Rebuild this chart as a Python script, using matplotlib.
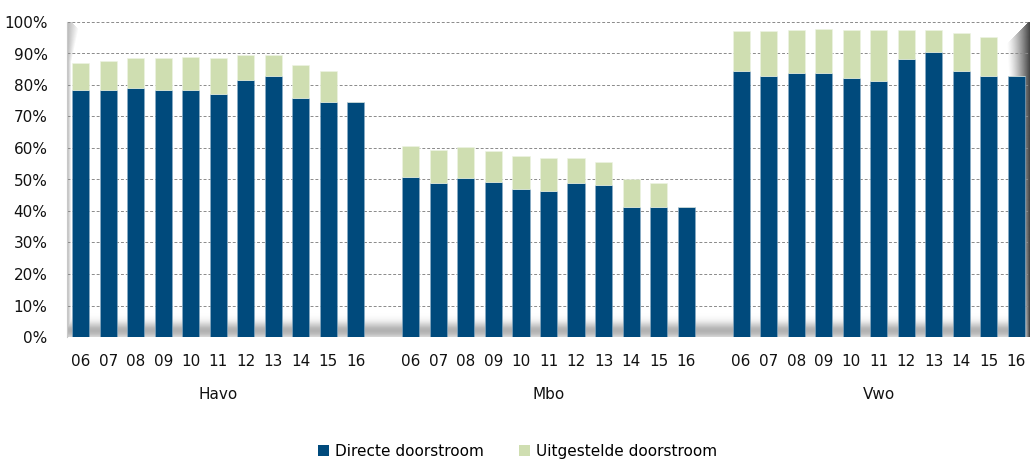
import numpy as np
import matplotlib
matplotlib.use("Agg")
import matplotlib.pyplot as plt
from matplotlib.patches import Patch

plt.rcParams['font.family'] = ['DejaVu Sans']

# schooljaren en opleidingen
jaren = ["06", "07", "08", "09", "10", "11", "12", "13", "14", "15", "16"]
groepen = ["Havo", "Mbo", "Vwo"]

# directe doorstroom (%)
havo_direct = [78.4, 78.4, 79.1, 78.4, 78.4, 77.1, 81.7, 83.0, 75.9, 74.6, 74.6]
mbo_direct = [50.9, 48.9, 50.5, 49.3, 47.1, 46.3, 48.9, 48.4, 41.3, 41.3, 41.3]
vwo_direct = [84.3, 83.0, 83.9, 83.9, 82.2, 81.4, 88.2, 90.6, 84.3, 83.0, 83.0]

# uitgestelde doorstroom (%), bovenop de directe
havo_uitgesteld = [8.5, 9.3, 9.5, 10.2, 10.6, 11.5, 7.7, 6.4, 10.5, 9.7, 0.0]
mbo_uitgesteld = [9.8, 10.6, 9.7, 9.7, 10.3, 10.6, 8.0, 7.3, 8.9, 7.7, 0.0]
vwo_uitgesteld = [12.7, 14.0, 13.6, 14.0, 15.3, 16.1, 9.3, 6.9, 12.3, 12.3, 0.0]

direct = [havo_direct, mbo_direct, vwo_direct]
uitgesteld = [havo_uitgesteld, mbo_uitgesteld, vwo_uitgesteld]

blauw = "#004A7C"
groen = "#CFDEB1"
fs = 11

fig = plt.figure(figsize=(10.31, 4.61), dpi=100)
ax = fig.add_axes([67 / 1031, 1 - 337 / 461, 963 / 1031, 315 / 461])

# 3D-achtige schaduw van de grafiekwand en vloer
H, W = 315, 963
yy, xx = np.mgrid[0:H, 0:W]
d_bot = (H - 1) - yy
dark = np.zeros((H, W))
floor = 0.38 * np.exp(-((d_bot - 6) / 8.0) ** 2) * (d_bot < 27)
dark = np.maximum(dark, floor)
left_w = 4 + 9 * np.clip(1 - yy / 40.0, 0, 1)
left = 0.35 * np.clip(1 - xx / left_w, 0, 1)
left = left * ((xx) < (yy + 4))
dark = np.maximum(dark, left)
right_w = 24 - 17 * (yy / H)
dx = (W - 1) - xx
right = 0.9 * np.clip(1 - dx / right_w, 0, 1) ** 1.3
right = right * (dx < yy + 1)
dark = np.maximum(dark, right)
img = np.zeros((H, W, 4))
img[..., :3] = 0.2
img[..., 3] = dark
ax.imshow(img, extent=[0, 1, 0, 1], transform=ax.transAxes, aspect='auto',
          zorder=0.5, interpolation='bilinear')

for g in range(len(groepen)):
    pos = [g * 12 + i for i in range(len(jaren))]
    ax.bar(pos, direct[g], width=0.62, color=blauw, edgecolor="#8fb0c8",
           linewidth=0.4, zorder=3)
    ax.bar(pos, uitgesteld[g], bottom=direct[g], width=0.62, color=groen,
           edgecolor="#eef4e4", linewidth=0.4, zorder=3)
    ax.text(g * 12 + 5, -0.184, groepen[g], transform=ax.get_xaxis_transform(),
            ha='center', va='center', fontsize=fs, color="#111111")

ax.set_xlim(-0.5, 34.5)
ax.set_ylim(0, 100)
ticks = [g * 12 + i for g in range(3) for i in range(len(jaren))]
ax.set_xticks(ticks)
ax.set_xticklabels(jaren * 3)
ax.set_yticks(range(0, 101, 10))
ax.set_yticklabels([f"{v}%" for v in range(0, 101, 10)])
ax.tick_params(axis='x', length=0, pad=12, labelsize=fs, colors="#111111")
ax.tick_params(axis='y', length=0, pad=14, labelsize=fs, colors="#111111")

ax.grid(axis='y', color="#8a8a8a", linestyle=(0, (3, 2)), linewidth=0.7, zorder=1)
ax.set_axisbelow(True)
for s in ["top", "right", "bottom"]:
    ax.spines[s].set_visible(False)
ax.spines["left"].set_color("#c8c8c8")
ax.spines["left"].set_linewidth(0.8)

handles = [Patch(facecolor=blauw, label="Directe doorstroom"),
           Patch(facecolor=groen, label="Uitgestelde doorstroom")]
fig.legend(handles=handles, loc='center', bbox_to_anchor=(0.502, 1 - 451 / 461),
           ncol=2, frameon=False, fontsize=fs, handlelength=0.7, handleheight=0.7,
           handletextpad=0.4, columnspacing=2.3)

fig.savefig("out.png", dpi=100)
